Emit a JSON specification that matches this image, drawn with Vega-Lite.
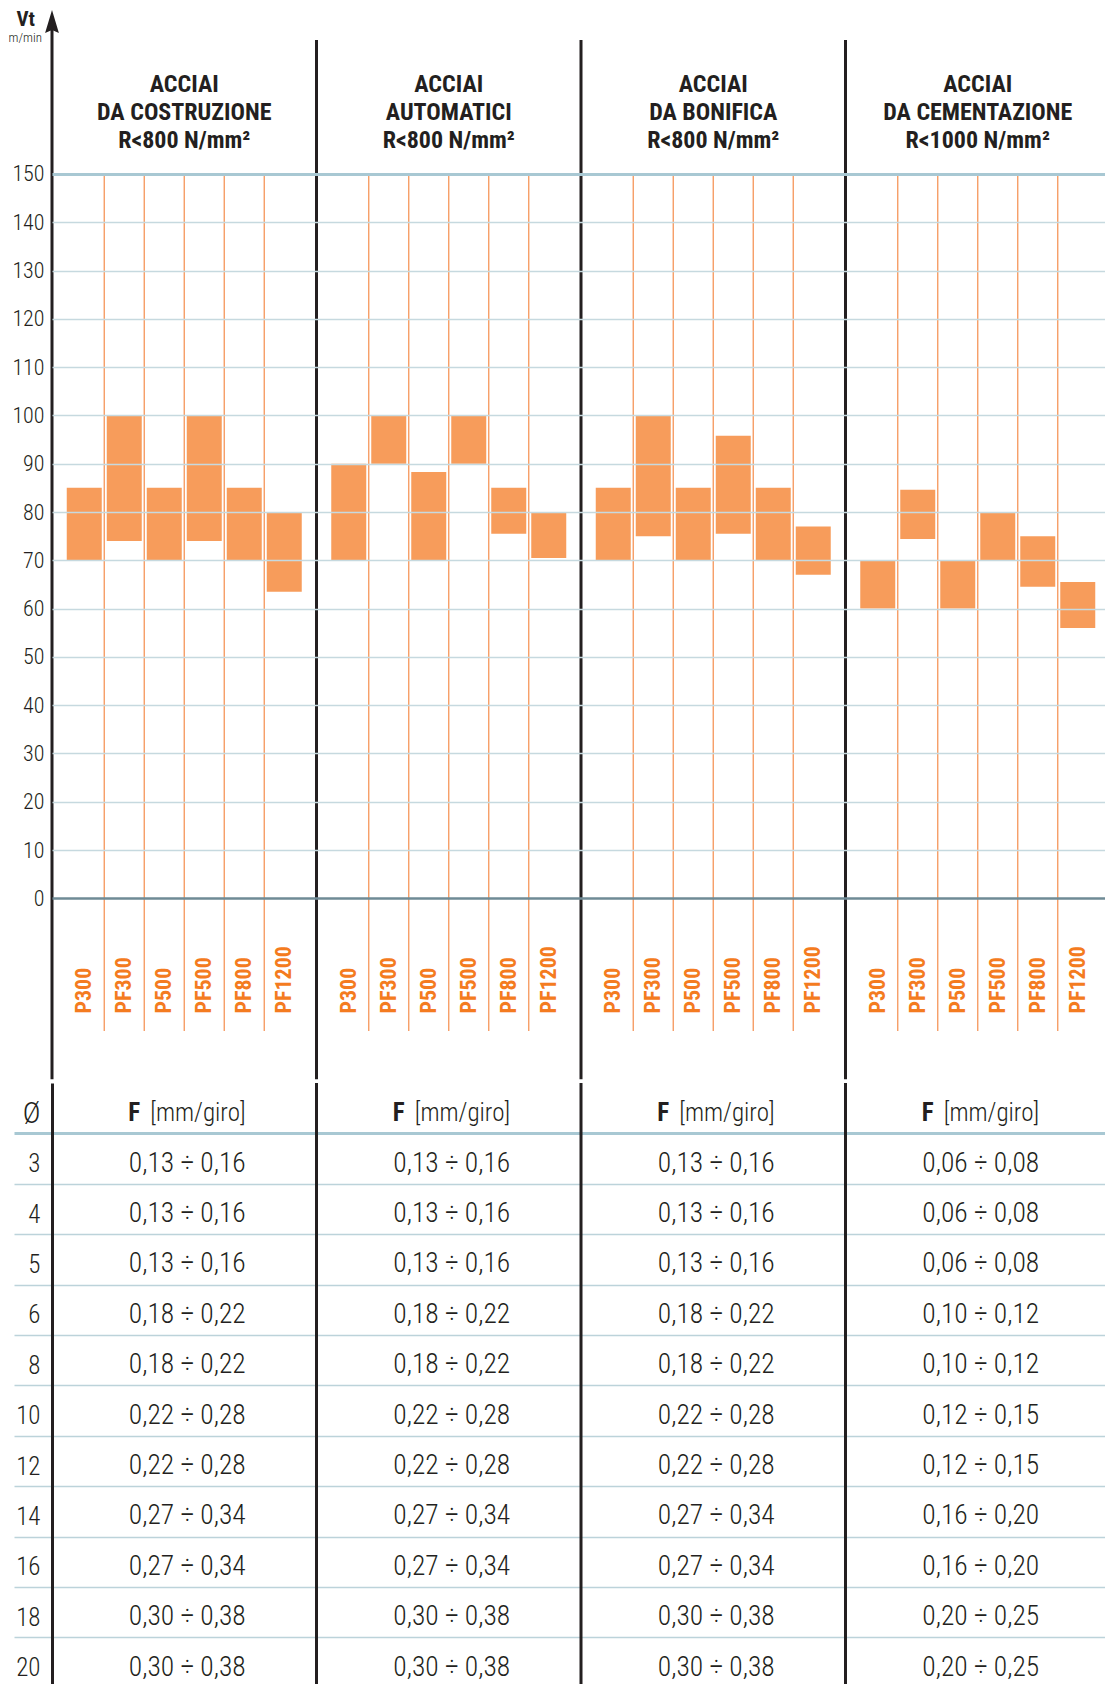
{
  "$schema": "https://vega.github.io/schema/vega-lite/v6.json",
  "padding": {"left": 8, "top": 0, "right": 0, "bottom": 0},
  "spacing": 0,
  "config": {
    "view": {"stroke": null},
    "font": "'Roboto Condensed', 'Noto Sans Condensed', 'Open Sans Condensed', 'DejaVu Sans Condensed', sans-serif",
    "concat": {"spacing": 0}
  },
  "datasets": {
    "groups": [
      {"g": "costruzione", "t": "ACCIAI\nDA COSTRUZIONE\nR<800 N/mm²"},
      {"g": "automatici", "t": "ACCIAI\nAUTOMATICI\nR<800 N/mm²"},
      {"g": "bonifica", "t": "ACCIAI\nDA BONIFICA\nR<800 N/mm²"},
      {"g": "cementazione", "t": "ACCIAI\nDA CEMENTAZIONE\nR<1000 N/mm²"}
    ],
    "bars": [
      {"g": "costruzione", "k": "P300", "lo": 70, "hi": 85},
      {"g": "costruzione", "k": "PF300", "lo": 74, "hi": 100},
      {"g": "costruzione", "k": "P500", "lo": 70, "hi": 85},
      {"g": "costruzione", "k": "PF500", "lo": 74, "hi": 100},
      {"g": "costruzione", "k": "PF800", "lo": 70, "hi": 85},
      {"g": "costruzione", "k": "PF1200", "lo": 63.5, "hi": 80},
      {"g": "automatici", "k": "P300", "lo": 70, "hi": 90},
      {"g": "automatici", "k": "PF300", "lo": 90, "hi": 100},
      {"g": "automatici", "k": "P500", "lo": 70, "hi": 88.3},
      {"g": "automatici", "k": "PF500", "lo": 90, "hi": 100},
      {"g": "automatici", "k": "PF800", "lo": 75.5, "hi": 85},
      {"g": "automatici", "k": "PF1200", "lo": 70.5, "hi": 80},
      {"g": "bonifica", "k": "P300", "lo": 70, "hi": 85},
      {"g": "bonifica", "k": "PF300", "lo": 75, "hi": 100},
      {"g": "bonifica", "k": "P500", "lo": 70, "hi": 85},
      {"g": "bonifica", "k": "PF500", "lo": 75.5, "hi": 95.8},
      {"g": "bonifica", "k": "PF800", "lo": 70, "hi": 85},
      {"g": "bonifica", "k": "PF1200", "lo": 67, "hi": 77},
      {"g": "cementazione", "k": "P300", "lo": 60, "hi": 70},
      {"g": "cementazione", "k": "PF300", "lo": 74.4, "hi": 84.6},
      {"g": "cementazione", "k": "P500", "lo": 60, "hi": 70},
      {"g": "cementazione", "k": "PF500", "lo": 70, "hi": 80},
      {"g": "cementazione", "k": "PF800", "lo": 64.5, "hi": 75},
      {"g": "cementazione", "k": "PF1200", "lo": 56, "hi": 65.5}
    ],
    "feed": [
      {"d": "3", "g": "costruzione", "f": "0,13 ÷ 0,16"},
      {"d": "3", "g": "automatici", "f": "0,13 ÷ 0,16"},
      {"d": "3", "g": "bonifica", "f": "0,13 ÷ 0,16"},
      {"d": "3", "g": "cementazione", "f": "0,06 ÷ 0,08"},
      {"d": "4", "g": "costruzione", "f": "0,13 ÷ 0,16"},
      {"d": "4", "g": "automatici", "f": "0,13 ÷ 0,16"},
      {"d": "4", "g": "bonifica", "f": "0,13 ÷ 0,16"},
      {"d": "4", "g": "cementazione", "f": "0,06 ÷ 0,08"},
      {"d": "5", "g": "costruzione", "f": "0,13 ÷ 0,16"},
      {"d": "5", "g": "automatici", "f": "0,13 ÷ 0,16"},
      {"d": "5", "g": "bonifica", "f": "0,13 ÷ 0,16"},
      {"d": "5", "g": "cementazione", "f": "0,06 ÷ 0,08"},
      {"d": "6", "g": "costruzione", "f": "0,18 ÷ 0,22"},
      {"d": "6", "g": "automatici", "f": "0,18 ÷ 0,22"},
      {"d": "6", "g": "bonifica", "f": "0,18 ÷ 0,22"},
      {"d": "6", "g": "cementazione", "f": "0,10 ÷ 0,12"},
      {"d": "8", "g": "costruzione", "f": "0,18 ÷ 0,22"},
      {"d": "8", "g": "automatici", "f": "0,18 ÷ 0,22"},
      {"d": "8", "g": "bonifica", "f": "0,18 ÷ 0,22"},
      {"d": "8", "g": "cementazione", "f": "0,10 ÷ 0,12"},
      {"d": "10", "g": "costruzione", "f": "0,22 ÷ 0,28"},
      {"d": "10", "g": "automatici", "f": "0,22 ÷ 0,28"},
      {"d": "10", "g": "bonifica", "f": "0,22 ÷ 0,28"},
      {"d": "10", "g": "cementazione", "f": "0,12 ÷ 0,15"},
      {"d": "12", "g": "costruzione", "f": "0,22 ÷ 0,28"},
      {"d": "12", "g": "automatici", "f": "0,22 ÷ 0,28"},
      {"d": "12", "g": "bonifica", "f": "0,22 ÷ 0,28"},
      {"d": "12", "g": "cementazione", "f": "0,12 ÷ 0,15"},
      {"d": "14", "g": "costruzione", "f": "0,27 ÷ 0,34"},
      {"d": "14", "g": "automatici", "f": "0,27 ÷ 0,34"},
      {"d": "14", "g": "bonifica", "f": "0,27 ÷ 0,34"},
      {"d": "14", "g": "cementazione", "f": "0,16 ÷ 0,20"},
      {"d": "16", "g": "costruzione", "f": "0,27 ÷ 0,34"},
      {"d": "16", "g": "automatici", "f": "0,27 ÷ 0,34"},
      {"d": "16", "g": "bonifica", "f": "0,27 ÷ 0,34"},
      {"d": "16", "g": "cementazione", "f": "0,16 ÷ 0,20"},
      {"d": "18", "g": "costruzione", "f": "0,30 ÷ 0,38"},
      {"d": "18", "g": "automatici", "f": "0,30 ÷ 0,38"},
      {"d": "18", "g": "bonifica", "f": "0,30 ÷ 0,38"},
      {"d": "18", "g": "cementazione", "f": "0,20 ÷ 0,25"},
      {"d": "20", "g": "costruzione", "f": "0,30 ÷ 0,38"},
      {"d": "20", "g": "automatici", "f": "0,30 ÷ 0,38"},
      {"d": "20", "g": "bonifica", "f": "0,30 ÷ 0,38"},
      {"d": "20", "g": "cementazione", "f": "0,20 ÷ 0,25"}
    ]
  },
  "vconcat": [
    {
      "width": 1053,
      "height": 1079.2,
      "resolve": {"scale": {"xOffset": "independent"}},
      "layer": [
        {
          "data": {"name": "bars"},
          "mark": {"type": "bar", "color": "#f79c5b"},
          "encoding": {
            "x": {"field": "g", "type": "nominal", "axis": null,
                  "scale": {"domain": ["costruzione", "automatici", "bonifica", "cementazione"], "range": [0, 1058], "paddingInner": 0, "paddingOuter": 0}},
            "xOffset": {"field": "k", "type": "nominal",
                  "scale": {"type": "band", "domain": ["P300", "PF300", "P500", "PF500", "PF800", "PF1200"], "paddingInner": 0.125, "paddingOuter": 0.36875}},
            "y": {"field": "lo", "type": "quantitative",
                  "scale": {"domain": [-37.46, 186.03], "nice": false, "zero": false},
                  "axis": {
                    "values": [0, 10, 20, 30, 40, 50, 60, 70, 80, 90, 100, 110, 120, 130, 140, 150],
                    "title": null, "domain": false, "ticks": false, "labelPadding": 8,
                    "labelFontSize": 22, "labelFontWeight": 300, "labelColor": "#231f20", "zindex": 1,
                    "grid": true,
                    "gridColor": {"condition": [{"test": "datum.value === 150", "value": "#a8c8d3"}, {"test": "datum.value === 0", "value": "#6f8b96"}], "value": "#c6d9df"},
                    "gridWidth": {"condition": [{"test": "datum.value === 150", "value": 3}, {"test": "datum.value === 0", "value": 2.5}], "value": 1.5}
                  }},
            "y2": {"field": "hi"}
          }
        },
        {
          "data": {"name": "bars"},
          "transform": [{"filter": "datum.k !== 'P300'"}],
          "mark": {"type": "rule", "color": "#f5965a", "strokeWidth": 1.3},
          "encoding": {
            "x": {"field": "g", "type": "nominal", "axis": null},
            "xOffset": {"field": "k", "type": "nominal",
                  "scale": {"type": "band", "domain": ["PF300", "P500", "PF500", "PF800", "PF1200"], "paddingInner": 0, "paddingOuter": 0.80625}},
            "y": {"datum": 150},
            "y2": {"datum": -27.48}
          }
        },
        {
          "data": {"name": "bars"},
          "mark": {"type": "text", "angle": 270, "align": "left", "baseline": "middle", "fontSize": 22, "fontWeight": "bold", "color": "#f47b20"},
          "encoding": {
            "x": {"field": "g", "type": "nominal", "axis": null},
            "xOffset": {"field": "k", "type": "nominal",
                  "scale": {"type": "band", "domain": ["P300", "PF300", "P500", "PF500", "PF800", "PF1200"], "paddingInner": 0.125, "paddingOuter": 0.36875}},
            "y": {"datum": -23.86},
            "text": {"field": "k"}
          }
        },
        {
          "data": {"name": "groups"},
          "mark": {"type": "text", "lineBreak": "\n", "fontSize": 24, "lineHeight": 28, "fontWeight": "bold", "color": "#231f20", "baseline": "middle"},
          "encoding": {
            "x": {"field": "g", "type": "nominal", "axis": null},
            "y": {"datum": 168.43},
            "text": {"field": "t"}
          }
        },
        {
          "data": {"name": "groups"},
          "transform": [{"filter": "datum.g !== 'costruzione'"}],
          "mark": {"type": "rule", "color": "#231f20", "strokeWidth": 3},
          "encoding": {
            "x": {"field": "g", "type": "nominal", "bandPosition": 0, "axis": null},
            "y": {"datum": 177.75},
            "y2": {"datum": -37.46}
          }
        },
        {
          "data": {"name": "groups"},
          "transform": [{"filter": "datum.g === 'costruzione'"}],
          "mark": {"type": "rule", "color": "#231f20", "strokeWidth": 3},
          "encoding": {
            "x": {"field": "g", "type": "nominal", "bandPosition": 0, "axis": null},
            "y": {"datum": 181.8},
            "y2": {"datum": -37.46}
          }
        },
        {
          "data": {"name": "groups"},
          "transform": [{"filter": "datum.g === 'costruzione'"}],
          "mark": {"type": "point", "shape": "M0,-1L0.6,1L0,0.75L-0.6,1Z", "size": 529, "filled": true, "color": "#231f20", "opacity": 1, "strokeWidth": 0},
          "encoding": {
            "x": {"field": "g", "type": "nominal", "bandPosition": 0, "axis": null},
            "y": {"datum": 181.58}
          }
        },
        {
          "data": {"name": "groups"},
          "transform": [{"filter": "datum.g === 'costruzione'"}],
          "mark": {"type": "text", "text": "Vt", "fontSize": 21, "fontWeight": "bold", "align": "right", "baseline": "middle", "dx": -17, "color": "#231f20"},
          "encoding": {
            "x": {"field": "g", "type": "nominal", "bandPosition": 0, "axis": null},
            "y": {"datum": 181.99}
          }
        },
        {
          "data": {"name": "groups"},
          "transform": [{"filter": "datum.g === 'costruzione'"}],
          "mark": {"type": "text", "text": "m/min", "fontSize": 13, "fontWeight": 300, "align": "right", "baseline": "middle", "dx": -10, "color": "#231f20"},
          "encoding": {
            "x": {"field": "g", "type": "nominal", "bandPosition": 0, "axis": null},
            "y": {"datum": 178.15}
          }
        }
      ]
    },
    {
      "width": 1053,
      "height": 604.8,
      "layer": [
        {
          "data": {"name": "feed"},
          "mark": {"type": "text", "fontSize": 27.5, "fontWeight": 300, "dy": 5, "dx": 3, "color": "#231f20", "baseline": "middle"},
          "encoding": {
            "x": {"field": "g", "type": "nominal", "axis": null,
                  "scale": {"domain": ["costruzione", "automatici", "bonifica", "cementazione"], "range": [0, 1058], "paddingInner": 0, "paddingOuter": 0}},
            "y": {"field": "d", "type": "ordinal",
                  "scale": {"domain": ["Ø", "3", "4", "5", "6", "8", "10", "12", "14", "16", "18", "20"], "paddingInner": 0, "paddingOuter": 0},
                  "axis": {
                    "title": null, "domain": true, "domainColor": "#231f20", "domainWidth": 3,
                    "tickSize": 38, "tickOffset": 25.2,
                    "tickColor": {"condition": {"test": "datum.value === 'Ø'", "value": "#a8c8d3"}, "value": "#bcd3da"},
                    "tickWidth": {"condition": {"test": "datum.value === 'Ø'", "value": 3}, "value": 1.5},
                    "tickOpacity": {"condition": {"test": "datum.value === '20'", "value": 0}, "value": 1},
                    "grid": true,
                    "gridColor": {"condition": {"test": "datum.value === 'Ø'", "value": "#a8c8d3"}, "value": "#bcd3da"},
                    "gridWidth": {"condition": {"test": "datum.value === 'Ø'", "value": 3}, "value": 1.5},
                    "gridOpacity": {"condition": {"test": "datum.value === '20'", "value": 0}, "value": 1},
                    "labelPadding": -26,
                    "labelFontSize": {"condition": {"test": "datum.value === 'Ø'", "value": 30}, "value": 25},
                    "labelFontWeight": 300,
                    "labelColor": "#231f20", "labelOffset": -20.2
                  }},
            "text": {"field": "f"}
          }
        },
        {
          "data": {"name": "groups"},
          "mark": {"type": "text", "text": "F", "fontSize": 25, "fontWeight": "bold", "align": "right", "baseline": "middle", "dx": -44, "dy": 5, "color": "#231f20"},
          "encoding": {
            "x": {"field": "g", "type": "nominal", "axis": null},
            "y": {"datum": "Ø"}
          }
        },
        {
          "data": {"name": "groups"},
          "mark": {"type": "text", "text": "[mm/giro]", "fontSize": 25, "fontWeight": 300, "align": "left", "baseline": "middle", "dx": -34, "dy": 5, "color": "#231f20"},
          "encoding": {
            "x": {"field": "g", "type": "nominal", "axis": null},
            "y": {"datum": "Ø"}
          }
        },
        {
          "data": {"name": "groups"},
          "transform": [{"filter": "datum.g !== 'costruzione'"}],
          "mark": {"type": "rule", "color": "#231f20", "strokeWidth": 3},
          "encoding": {
            "x": {"field": "g", "type": "nominal", "bandPosition": 0, "axis": null}
          }
        }
      ]
    }
  ]
}
